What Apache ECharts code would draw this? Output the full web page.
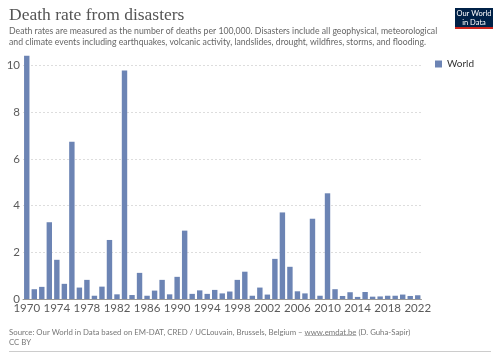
<!DOCTYPE html>
<html>
<head>
<meta charset="utf-8">
<script src="https://cdn.jsdelivr.net/npm/echarts@6/dist/echarts.min.js"></script>
<style>
  html, body { margin: 0; padding: 0; background: #fff; }
  #chart { width: 500px; height: 353px; }
</style>
</head>
<body>
<div id="chart"></div>
<script>
const years = [];
for (let y = 1970; y <= 2022; y++) years.push(String(y));
const world = [
  10.43, 0.42, 0.52, 3.29, 1.68, 0.65, 6.74, 0.49, 0.82, 0.14,
  0.53, 2.53, 0.2, 9.79, 0.17, 1.12, 0.14, 0.36, 0.82, 0.2,
  0.95, 2.93, 0.22, 0.37, 0.22, 0.39, 0.24, 0.32, 0.82, 1.17,
  0.14, 0.49, 0.19, 1.72, 3.71, 1.38, 0.33, 0.24, 3.44, 0.14,
  4.53, 0.42, 0.13, 0.29, 0.09, 0.3, 0.1, 0.11, 0.14, 0.14,
  0.19, 0.13, 0.16
];
const yTicks = [0, 2, 4, 6, 8, 10];

const FONT = "Lato, 'Noto Sans', sans-serif";
const SRC_PRE = "Source: Our World in Data based on EM-DAT, CRED / UCLouvain, Brussels, Belgium – ";
const SRC_LINK = "www.emdat.be";
const SRC_POST = " (D. Guha-Sapir)";
const srcFont = "7.8px " + FONT;

// where the link sits, for its underline
const ctx = document.createElement("canvas").getContext("2d");
ctx.font = srcFont;
const linkX = 9 + ctx.measureText(SRC_PRE).width;
const linkW = ctx.measureText(SRC_LINK).width;

const chart = echarts.init(document.getElementById("chart"), null, { renderer: "canvas" });
chart.setOption({
  animation: false,
  textStyle: { fontFamily: FONT },
  grid: { left: 23, right: 78.5, top: 54, bottom: 54, containLabel: false },
  legend: {
    data: ["World"], left: 430, top: 54, icon: "rect", itemWidth: 7, itemHeight: 7, itemGap: 4,
    textStyle: { fontSize: 10, color: "#333", fontFamily: FONT }
  },
  xAxis: {
    type: "category", data: years,
    axisLine: { lineStyle: { color: "#999" } },
    axisTick: { alignWithLabel: true, interval: 3, length: 4, lineStyle: { color: "#999" } },
    axisLabel: { interval: 3, color: "#5b5b5b", fontSize: 11.5, margin: 3 }
  },
  yAxis: {
    type: "value", min: 0, max: 10.5, interval: 2,
    axisLine: { show: false }, axisTick: { show: false },
    axisLabel: {
      color: "#5b5b5b", fontSize: 11.5, margin: 3, showMaxLabel: false,
      formatter: v => yTicks.includes(v) ? String(v) : ""
    },
    splitLine: { showMaxLine: false, lineStyle: { color: "#ddd", type: [2, 2] } }
  },
  series: [{
    name: "World", type: "bar", data: world, barWidth: "72%",
    itemStyle: { color: "#6c84b4" }
  }],
  graphic: [
    { type: "text", left: 9, top: 6, style: { text: "Death rate from disasters", font: "17.5px 'Liberation Serif', serif", fill: "#555" } },
    { type: "text", left: 9, top: 26, style: {
      text: "Death rates are measured as the number of deaths per 100,000. Disasters include all geophysical, meteorological\nand climate events including earthquakes, volcanic activity, landslides, drought, wildfires, storms, and flooding.",
      font: "8.7px " + FONT, fill: "#666", lineHeight: 10.5 } },
    { type: "rect", shape: { x: 455, y: 8, width: 38, height: 19 }, style: { fill: "#002147" } },
    { type: "rect", shape: { x: 455, y: 27, width: 38, height: 2 }, style: { fill: "#ce261e" } },
    { type: "text", x: 474, y: 9.5, style: { text: "Our World\nin Data", font: "7.5px " + FONT, fill: "#fff", align: "center", lineHeight: 8.5 } },
    { type: "text", left: 9, top: 327, style: {
      text: SRC_PRE + SRC_LINK + SRC_POST + "\nCC BY",
      font: srcFont, fill: "#777", lineHeight: 10 } },
    { type: "line", shape: { x1: linkX, y1: 335.5, x2: linkX + linkW, y2: 335.5 }, style: { stroke: "#888", lineWidth: 0.6 } },
    { type: "line", shape: { x1: 9, y1: 351.5, x2: 491, y2: 351.5 }, style: { stroke: "#ccc", lineWidth: 1 } }
  ]
});
</script>
</body>
</html>
